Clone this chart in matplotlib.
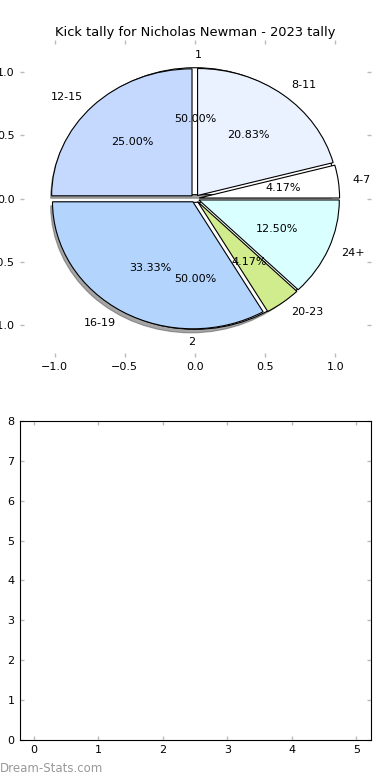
import matplotlib
matplotlib.use("Agg")
import matplotlib.pyplot as plt

# Kick tally by age group (counts out of 24)
age_groups = ["4-7", "8-11", "12-15", "16-19", "20-23", "24+"]
kicks = [1, 5, 6, 8, 1, 3]
group_colors = ["#ffffff", "#eaf1ff", "#c5d8fd", "#b3d4fd", "#d0ec8c", "#d9ffff"]

# Season halves
halves = ["1", "2"]
half_kicks = [12, 12]

fig = plt.figure(figsize=(3.9, 7.8), dpi=100)
plt.rcParams["font.size"] = 8

# --- top: pie ---
ax = fig.add_axes([0.05, 0.542, 0.9, 0.407])
_, half_txt, _ = ax.pie(half_kicks, labels=halves, colors=["white", "white"],
                        explode=[0.03, 0.03], autopct="%.2f%%", shadow=True,
                        startangle=0,
                        wedgeprops=dict(edgecolor="black", linewidth=0.8),
                        textprops=dict(fontsize=8), frame=True)
# top label sits just right of centre, bottom one just left (old mpl alignment)
half_txt[0].set_ha("left")
half_txt[1].set_ha("right")

ax.pie(kicks, labels=age_groups, colors=group_colors, explode=[0.03] * len(kicks),
       autopct="%.2f%%", startangle=0,
       wedgeprops=dict(edgecolor="black", linewidth=0.8),
       textprops=dict(fontsize=8), frame=True)
ax.set_aspect("auto")
ax.set_xlim(-1.25, 1.25)
ax.set_ylim(-1.25, 1.25)
ax.set_xticks([-1.0, -0.5, 0.0, 0.5, 1.0])
ax.set_yticks([-1.0, -0.5, 0.0, 0.5, 1.0])
ax.set_frame_on(False)
ax.tick_params(direction="in", top=True, right=True, color="#bbbbbb",
               labelsize=8, length=3, width=1)
ax.set_title("Kick tally for Nicholas Newman - 2023 tally", fontsize=9.4, pad=3)

# --- bottom: empty axes ---
ax2 = fig.add_axes([0.05, 0.0513, 0.9, 0.409])
ax2.set_xlim(-0.22, 5.22)
ax2.set_ylim(0, 8)
ax2.set_xticks(range(6))
ax2.set_yticks(range(9))
ax2.tick_params(direction="in", top=True, right=True, color="#bbbbbb",
                labelsize=8, length=3, width=1)

fig.text(0.0, 0.007, "Dream-Stats.com", color="#999999", fontsize=8.5,
         ha="left", va="bottom")

fig.savefig("out.png", dpi=100)
